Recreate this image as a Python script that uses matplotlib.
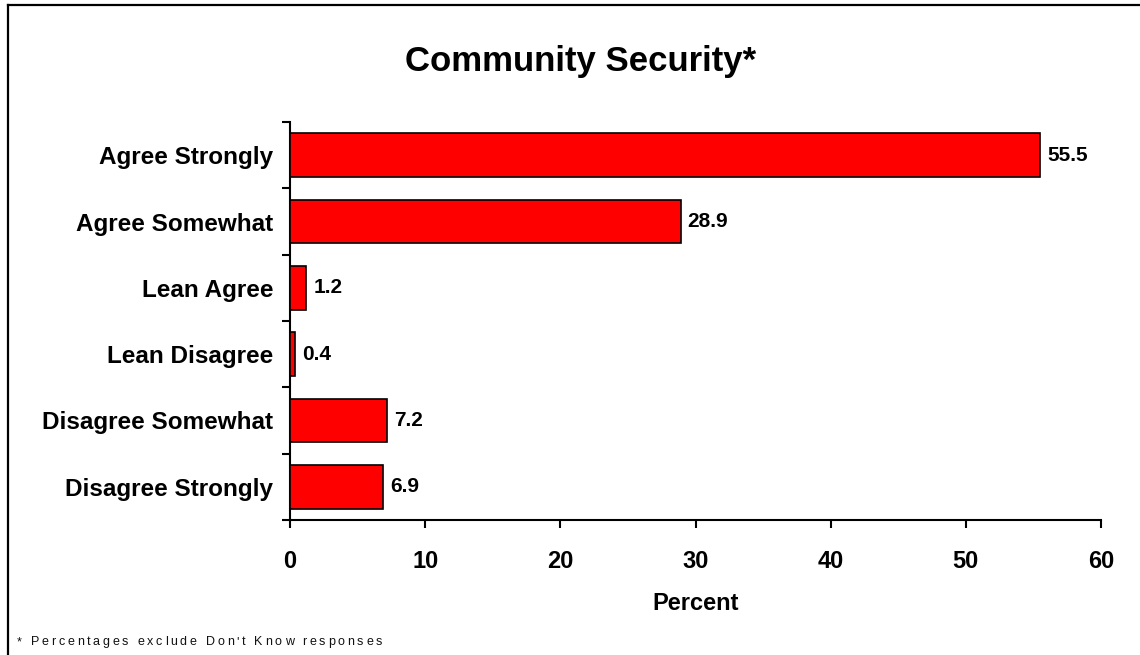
import matplotlib
matplotlib.use("Agg")
import matplotlib.pyplot as plt
from matplotlib.lines import Line2D
from matplotlib.font_manager import FontProperties
from matplotlib.textpath import text_to_path

categories = ["Agree Strongly", "Agree Somewhat", "Lean Agree",
              "Lean Disagree", "Disagree Somewhat", "Disagree Strongly"]
percents = [55.5, 28.9, 1.2, 0.4, 7.2, 6.9]
x_ticks = [0, 10, 20, 30, 40, 50, 60]
title_text = "Community Security*"
x_label = "Percent"
footnote = "* Percentages exclude Don't Know responses"

plt.rcParams["font.family"] = ["Liberation Sans", "DejaVu Sans"]

W, H, DPI = 1140, 655, 100
fig = plt.figure(figsize=(W / DPI, H / DPI), dpi=DPI)
fig.patch.set_facecolor("white")

ax = fig.add_axes([290 / W, 1 - 520 / H, (1101 - 290) / W, (520 - 122) / H])

n = len(categories)
ypos = list(range(n))
ax.barh(ypos, percents, height=0.66, color="#ff0000", edgecolor="black",
        linewidth=1.2, zorder=3)

for y, v in zip(ypos, percents):
    ax.annotate(f"{v:.1f}", xy=(v, y), xytext=(5, 0), textcoords="offset points",
                ha="left", va="center", fontsize=15, fontweight="bold")

ax.set_xlim(0, 60)
ax.set_ylim(n - 0.5, -0.5)
ax.set_xticks(x_ticks)
ax.set_xticklabels([str(t) for t in x_ticks], fontsize=17, fontweight="bold")

# category labels centred in each band, tick marks on band boundaries
ax.set_yticks(ypos)
ax.set_yticklabels(categories, fontsize=17.5, fontweight="bold")
ax.tick_params(axis="y", which="major", length=0, pad=12)
ax.set_yticks([i - 0.5 for i in range(n + 1)], minor=True)
ax.tick_params(axis="y", which="minor", length=6, width=1.5, direction="out")
ax.tick_params(axis="x", which="major", length=6, width=1.5, direction="out", pad=15.5)

ax.set_xlabel(x_label, fontsize=17, fontweight="bold", labelpad=14)

for side in ("top", "right"):
    ax.spines[side].set_visible(False)
for side in ("left", "bottom"):
    ax.spines[side].set_linewidth(1.5)

fig.text(581 / W, 1 - 62 / H, title_text, ha="center", va="center",
         fontsize=25, fontweight="bold")

# footnote with wide letter spacing
fp = FontProperties(family="Liberation Sans", size=9)
target_px = 365
widths = [text_to_path.get_text_width_height_descent(c, fp, ismath=False)[0]
          for c in footnote]
natural_px = sum(widths) * DPI / 72
track = (target_px - natural_px) / (len(footnote) - 1)
x_px = 17
for c, w in zip(footnote, widths):
    fig.text(x_px / W, 1 - 645 / H, c, fontproperties=fp, ha="left",
             va="baseline", color="#111111")
    x_px += w * DPI / 72 + track

# frame lines along the left and top edges
fig.add_artist(Line2D([7.5 / W, 7.5 / W], [0, 1 - 5 / H], transform=fig.transFigure,
                      color="black", linewidth=1.6))
fig.add_artist(Line2D([7.5 / W, 1], [1 - 5 / H, 1 - 5 / H], transform=fig.transFigure,
                      color="black", linewidth=1.6))

fig.savefig("out.png", dpi=DPI)
